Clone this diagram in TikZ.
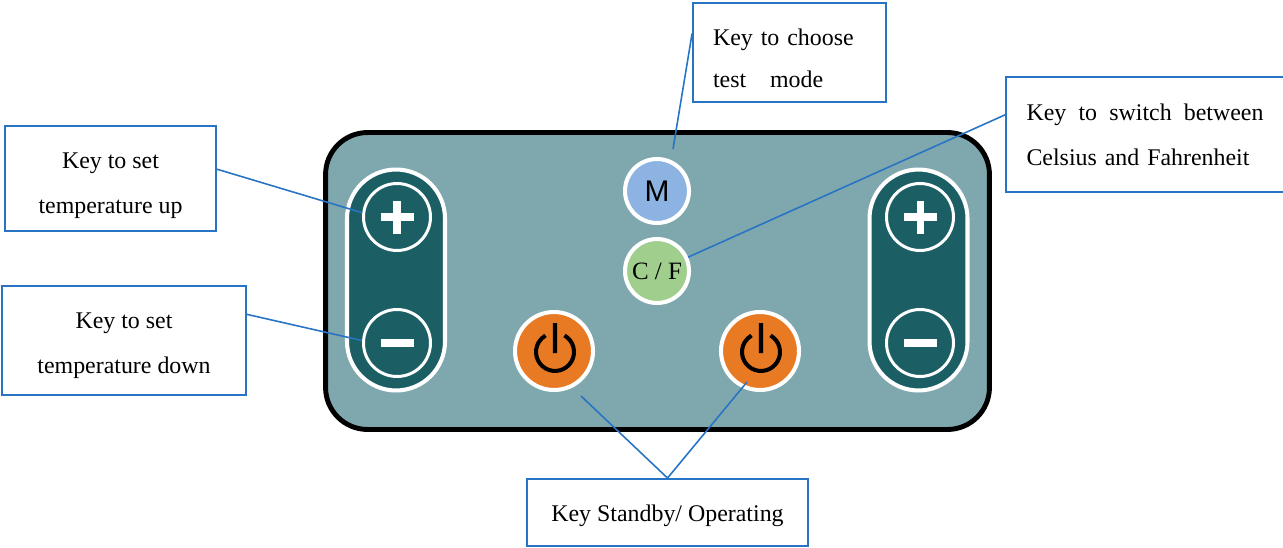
\documentclass[tikz,border=0pt]{standalone}
\usepackage{fontspec}
\setmainfont{Liberation Serif}
\newfontfamily\keysans{Liberation Sans}
\usepackage{xcolor}
\usetikzlibrary{calc}

\definecolor{panelfill}{HTML}{7FA8AE}
\definecolor{pillfill}{HTML}{1B5F65}
\definecolor{modefill}{HTML}{8DB3E2}
\definecolor{cffill}{HTML}{9FCE8D}
\definecolor{powerfill}{HTML}{E97A24}
\definecolor{leadblue}{HTML}{2874C4}

\newcommand{\padtop}[1]{\rule{0pt}{#1}}

\begin{document}
\begin{tikzpicture}[x=0.02cm, y=-0.02cm,
    panel/.style={draw=black, fill=panelfill, line width=2.8pt, rounded corners=0.84cm,
        minimum width=13.28cm, minimum height=5.94cm, inner sep=0pt},
    pill/.style={draw=white, fill=pillfill, line width=2.3pt, rounded corners=0.98cm,
        minimum width=1.96cm, minimum height=4.42cm, inner sep=0pt},
    ring/.style={circle, draw=white, line width=1.7pt, minimum size=1.34cm, inner sep=0pt},
    roundkey/.style={circle, draw=white, line width=2.3pt, inner sep=0pt},
    sign/.style={white, line width=4pt},
    icon/.style={black, line width=2.3pt},
    labelbox/.style={draw=leadblue, line width=1.1pt, inner sep=0pt,
        font=\fontsize{13.6}{25.5}\selectfont},
    lead/.style={leadblue, line width=0.9pt}]
    \useasboundingbox (0,0) rectangle (1283,547);

    % panel and keys
    \node[panel] (panel) at (657.5,281) {};
    \node[pill] (pillL) at (396,280) {};
    \node[pill] (pillR) at (918.5,280) {};
    \node[ring] (plusL) at (397,217) {};
    \node[ring] (minusL) at (397,343) {};
    \node[ring] (plusR) at (920,217) {};
    \node[ring] (minusR) at (920,343) {};
    \node[roundkey, fill=modefill, minimum size=1.28cm, font=\keysans\fontsize{17}{17}\selectfont] (modekey) at (657,191) {M};
    \node[roundkey, fill=cffill, minimum size=1.28cm, font=\fontsize{14.2}{14}\selectfont] (cfkey) at (657,271) {C / F};
    \node[roundkey, fill=powerfill, minimum size=1.56cm] (powerL) at (554,351) {};
    \node[roundkey, fill=powerfill, minimum size=1.56cm] (powerR) at (760,351) {};

    \foreach \k in {plusL,plusR}
        \draw[sign] ($(\k)+(-16.5,0)$) -- ($(\k)+(16.5,0)$)
                    ($(\k)+(0,-16.5)$) -- ($(\k)+(0,16.5)$);
    \foreach \k in {minusL,minusR}
        \draw[sign, line width=5pt] ($(\k)+(-16.5,0)$) -- ($(\k)+(16.5,0)$);
    \foreach \k in {powerL,powerR}
        \draw[icon] ($(\k)+(1,-28)$) -- ($(\k)+(1,2)$)
                    ($(\k)+(10.5,-15.5)$) arc[start angle=-60, end angle=240, radius=19];

    % labels
    \node[labelbox, minimum width=4.22cm, minimum height=2.1cm, align=center] (upkey) at (110.5,178.5)
        {\padtop{0.61cm}Key to set\\temperature up};
    \node[labelbox, minimum width=4.88cm, minimum height=2.18cm, align=center] (downkey) at (124,340.5)
        {\padtop{0.53cm}Key to set\\temperature down};
    \node[labelbox, text width=3.06cm, inner xsep=0.4cm, minimum height=1.98cm, align=left,
        font=\fontsize{13.6}{23.8}\selectfont] (modelabel) at (789.5,52.5)
        {\padtop{0.55cm}Key to choose\\test\hspace{1em}mode};
    \node[labelbox, text width=4.74cm, inner xsep=0.41cm, minimum height=2.3cm, align=left] (cflabel) at (1145,134.5)
        {Key\hfill to\hfill switch\hfill between\\Celsius and Fahrenheit};
    \node[labelbox, minimum width=5.62cm, minimum height=1.34cm] (standby) at (667.5,512.5)
        {\padtop{0.45cm}Key Standby/ Operating};

    % leads
    \draw[lead]
    (upkey.5) -- (plusL.173)
    (downkey.12) -- (minusL.176)
    (modelabel.169) -- ($(modekey)+(16,-42)$)
    (cflabel.172) -- (cfkey.24)
    (standby.north) -- ($(powerL)+(27,45)$)
    (standby.north) -- ($(powerR)+(-13,31)$);
\end{tikzpicture}
\end{document}
